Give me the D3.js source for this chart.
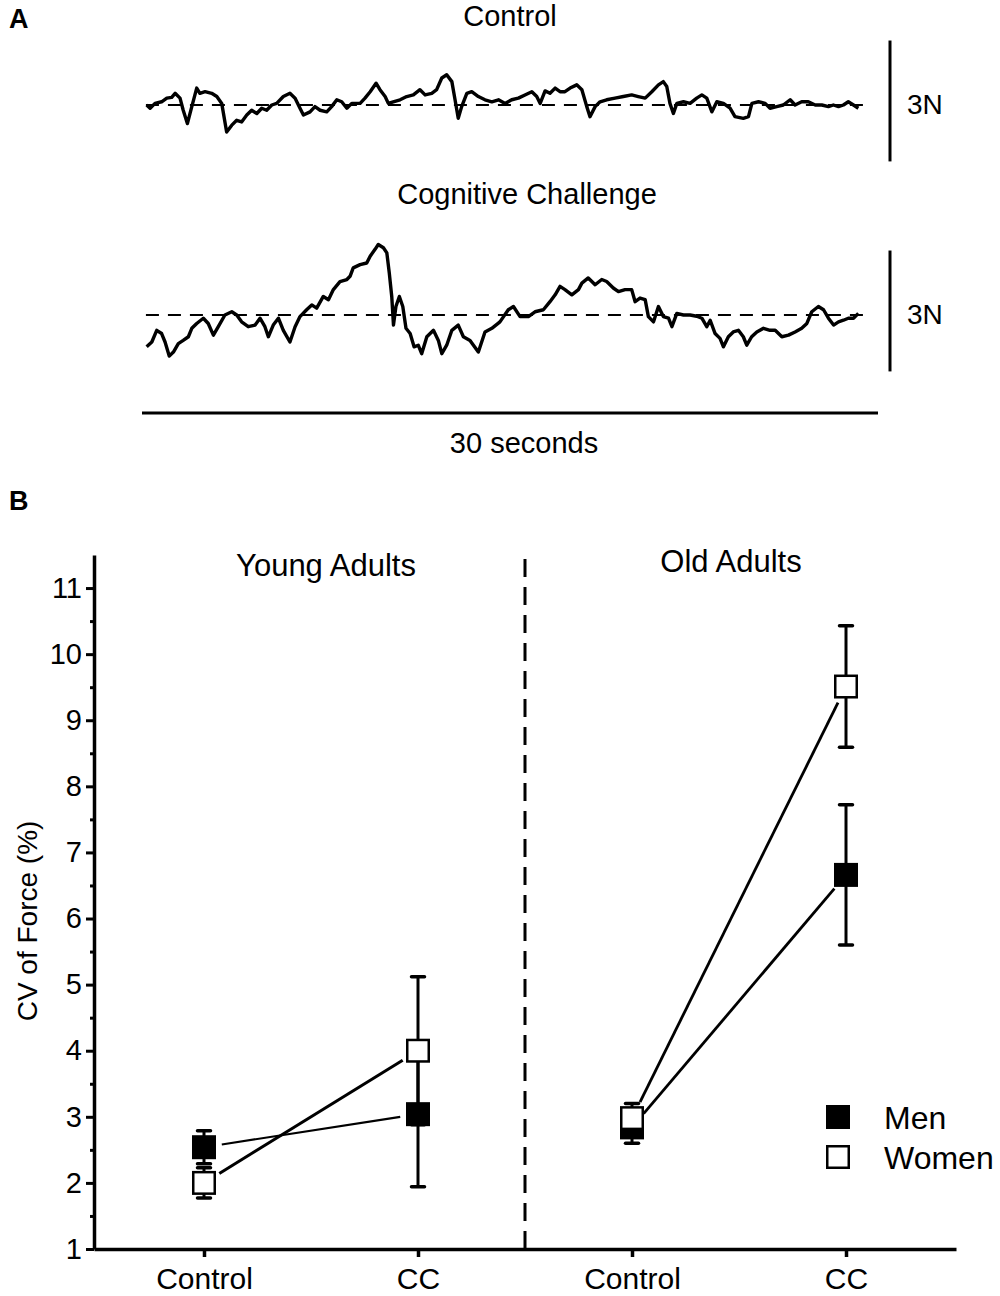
<!DOCTYPE html>
<html>
<head>
<meta charset="utf-8">
<script src="https://cdn.jsdelivr.net/npm/d3@7"></script>
<style>
  body { margin: 0; background: #fff; }
  svg { display: block; }
  text { font-family: "Liberation Sans", Arial, sans-serif; fill: #000; }
</style>
</head>
<body>
<svg id="fig" width="1000" height="1296"></svg>
<script>
// ---- panel A: force traces (time in s, force deviation from target in N)
const controlTime = [0.19,0.33,0.53,0.80,1.01,1.21,1.35,1.55,1.68,1.85,2.03,2.23,2.36,2.57,2.84,3.05,3.25,3.45,3.66,3.86,
  4.06,4.27,4.47,4.68,4.88,5.08,5.29,5.49,5.76,6.03,6.24,6.44,6.58,6.85,7.05,7.26,7.53,7.73,7.94,8.14,8.35,8.55,8.89,
  9.09,9.30,9.54,9.70,9.91,10.04,10.24,10.52,10.79,11.06,11.33,11.54,11.81,12.01,12.22,12.42,12.63,12.76,12.89,13.03,
  13.24,13.44,13.71,13.98,14.26,14.53,14.80,15.07,15.34,15.61,15.89,16.09,16.23,16.43,16.63,16.84,17.04,17.24,17.45,
  17.72,17.93,18.13,18.26,18.47,18.67,18.94,19.28,19.62,19.96,20.23,20.51,20.78,21.05,21.25,21.39,21.52,21.66,21.80,
  22.07,22.34,22.61,22.82,23.02,23.23,23.43,23.70,23.97,24.17,24.51,24.72,24.86,25.13,25.40,25.60,25.87,26.14,26.42,
  26.62,26.89,27.16,27.44,27.71,27.98,28.18,28.39,28.59,28.79,29.00,29.20];
const controlForce = [0.00,-0.08,0.04,0.08,0.17,0.19,0.29,0.17,-0.13,-0.46,-0.04,0.42,0.29,0.33,0.29,0.21,0.04,-0.67,-0.50,-0.38,
  -0.42,-0.25,-0.13,-0.21,-0.08,-0.13,0.00,0.04,0.21,0.29,0.17,-0.08,-0.25,-0.17,-0.04,-0.13,-0.17,-0.04,0.13,0.08,-0.08,0.04,0.04,
  0.17,0.33,0.54,0.38,0.21,0.04,0.08,0.13,0.21,0.25,0.38,0.25,0.29,0.38,0.67,0.75,0.58,0.13,-0.33,-0.04,
  0.29,0.33,0.21,0.13,0.08,0.13,0.04,0.13,0.17,0.25,0.33,0.21,0.04,0.35,0.29,0.42,0.33,0.33,0.42,
  0.50,0.38,-0.04,-0.29,-0.04,0.08,0.13,0.17,0.21,0.25,0.21,0.17,0.33,0.50,0.58,0.46,0.04,-0.21,0.04,
  0.08,0.04,0.17,0.25,0.17,-0.17,0.08,0.04,-0.08,-0.29,-0.33,-0.29,0.04,0.08,0.04,-0.08,-0.04,0.00,0.13,
  0.00,0.08,0.08,0.00,0.00,-0.04,0.00,-0.04,0.00,0.08,0.00,-0.08];

const ccTime = [0.19,0.40,0.60,0.80,0.94,1.11,1.28,1.48,1.68,1.89,2.03,2.23,2.50,2.70,2.91,3.11,3.38,3.66,3.86,4.06,4.33,
  4.61,4.81,5.01,5.15,5.35,5.56,5.76,6.03,6.24,6.44,6.71,6.92,7.12,7.39,7.60,7.80,8.07,8.35,8.48,8.61,8.89,9.16,9.30,
  9.50,9.63,9.84,9.98,10.08,10.18,10.25,10.35,10.49,10.63,10.76,10.93,11.09,11.26,11.40,11.61,11.88,12.08,12.22,12.42,
  12.63,12.89,13.10,13.37,13.71,13.98,14.26,14.59,14.93,15.14,15.41,15.75,16.02,16.36,16.63,16.84,17.04,17.24,17.52,
  17.79,17.93,18.19,18.47,18.74,18.94,19.21,19.42,19.69,19.96,20.10,20.30,20.51,20.64,20.85,21.05,21.25,21.46,21.60,
  21.80,22.07,22.34,22.61,22.82,23.02,23.16,23.36,23.56,23.70,23.90,24.10,24.31,24.51,24.65,24.85,25.06,25.33,25.60,
  25.81,26.08,26.35,26.62,26.89,27.10,27.30,27.57,27.78,27.98,28.19,28.39,28.59,28.79,29.00,29.20];
const ccForce = [-0.79,-0.67,-0.38,-0.46,-0.67,-1.02,-0.92,-0.71,-0.63,-0.54,-0.33,-0.21,-0.08,-0.21,-0.50,-0.29,0.00,0.08,0.00,-0.17,-0.29,
  -0.25,-0.08,-0.29,-0.54,-0.25,-0.08,-0.38,-0.67,-0.29,-0.04,0.13,0.25,0.17,0.46,0.38,0.63,0.83,0.88,0.96,1.17,1.25,1.29,1.46,
  1.63,1.75,1.67,1.54,1.04,0.46,-0.25,0.21,0.46,0.21,-0.33,-0.46,-0.79,-0.75,-0.96,-0.54,-0.38,-0.63,-0.96,-0.75,
  -0.38,-0.25,-0.54,-0.63,-0.92,-0.42,-0.33,-0.17,0.13,0.21,-0.04,-0.04,0.08,0.13,0.33,0.50,0.71,0.63,0.50,
  0.63,0.79,0.92,0.75,0.88,0.83,0.67,0.58,0.63,0.63,0.33,0.42,0.38,-0.04,-0.17,0.21,-0.04,-0.08,-0.29,
  0.04,0.00,0.00,-0.03,-0.08,-0.29,-0.13,-0.46,-0.58,-0.79,-0.54,-0.42,-0.38,-0.54,-0.75,-0.54,-0.42,-0.33,-0.38,
  -0.38,-0.54,-0.50,-0.42,-0.33,-0.21,0.08,0.21,0.13,-0.08,-0.25,-0.17,-0.13,-0.08,-0.08,0.04];

// ---- panel B: CV of force (%), order = Young Control, Young CC, Old Control, Old CC
const groups = ["Young Adults", "Old Adults"];
const conditions = ["Control", "CC"];
const menMean = [2.54, 3.04, 2.84, 6.66];
const menSE = [0.25, 1.10, 0.24, 1.06];
const womenMean = [2.00, 4.00, 2.98, 9.51];
const womenSE = [0.23, 1.12, 0.22, 0.92];
const yTicks = [1, 2, 3, 4, 5, 6, 7, 8, 9, 10, 11];

const svg = d3.select("#fig");

// panel letters
svg.append("text").attr("x", 9).attr("y", 28).attr("font-size", 27).attr("font-weight", "bold").text("A");
svg.append("text").attr("x", 9).attr("y", 510).attr("font-size", 27).attr("font-weight", "bold").text("B");

// ================= Panel A =================
const xTime = d3.scaleLinear().domain([0, 30]).range([142, 878]);
const pxPerN = 40.3;

const traces = [
  { title: "Control", titleX: 510, titleY: 26, t: controlTime, f: controlForce, base: 105 },
  { title: "Cognitive Challenge", titleX: 527, titleY: 204, t: ccTime, f: ccForce, base: 315 }
];

traces.forEach(tr => {
  const yF = d3.scaleLinear().domain([-1, 1]).range([tr.base + pxPerN, tr.base - pxPerN]);
  const g = svg.append("g");

  g.append("text")
    .attr("x", tr.titleX).attr("y", tr.titleY)
    .attr("text-anchor", "middle").attr("font-size", 29)
    .text(tr.title);

  // target force (dashed)
  g.append("line")
    .attr("x1", xTime(0.16)).attr("x2", xTime(29.6))
    .attr("y1", yF(0)).attr("y2", yF(0))
    .attr("stroke", "#000").attr("stroke-width", 2)
    .attr("stroke-dasharray", "13,9");

  const pts = tr.t.map((t, i) => [t, tr.f[i]]);
  g.append("path")
    .datum(pts)
    .attr("d", d3.line().x(d => xTime(d[0])).y(d => yF(d[1])))
    .attr("fill", "none").attr("stroke", "#000")
    .attr("stroke-width", 3.4).attr("stroke-linejoin", "round");

  // 3N scale bar
  g.append("line")
    .attr("x1", 890).attr("x2", 890)
    .attr("y1", yF(-1.4)).attr("y2", yF(1.6))
    .attr("stroke", "#000").attr("stroke-width", 3);
  g.append("text")
    .attr("x", 907).attr("y", (yF(-1.4) + yF(1.6)) / 2 + 13)
    .attr("font-size", 28).text("3N");
});

// time scale bar
svg.append("line")
  .attr("x1", xTime(0)).attr("x2", xTime(30))
  .attr("y1", 413).attr("y2", 413)
  .attr("stroke", "#000").attr("stroke-width", 3);
svg.append("text")
  .attr("x", 524).attr("y", 453)
  .attr("text-anchor", "middle").attr("font-size", 29)
  .text("30 seconds");

// ================= Panel B =================
const keys = ["YC", "YCC", "OC", "OCC"];
const x = d3.scalePoint().domain(keys).range([94, 956]).padding(0.514);
const y = d3.scaleLinear().domain([1, 11.5]).range([1249, 555]);

const gB = svg.append("g");

// y axis
const yAxis = gB.append("g")
  .attr("transform", "translate(94,0)")
  .call(d3.axisLeft(y).tickValues(yTicks).tickSize(8).tickSizeOuter(0).tickPadding(4));
yAxis.select(".domain").attr("stroke-width", 3.5);
yAxis.selectAll(".tick line").attr("stroke-width", 3);
yAxis.selectAll(".tick text").attr("font-size", 29).attr("font-family", "Liberation Sans, Arial, sans-serif");

// minor ticks
const yMinor = gB.append("g")
  .attr("transform", "translate(94,0)")
  .call(d3.axisLeft(y).tickValues(d3.range(1.5, 11, 1)).tickSize(4).tickFormat(""));
yMinor.select(".domain").remove();
yMinor.selectAll(".tick line").attr("stroke-width", 3);

// x axis
const xAxis = gB.append("g")
  .attr("transform", "translate(0,1249)")
  .call(d3.axisBottom(x).tickSize(8).tickSizeOuter(0).tickPadding(10.5)
    .tickFormat((d, i) => conditions[i % 2]));
xAxis.select(".domain").attr("stroke-width", 3.5);
xAxis.selectAll(".tick line").attr("stroke-width", 3.5);
xAxis.selectAll(".tick text").attr("font-size", 30).attr("font-family", "Liberation Sans, Arial, sans-serif");

// y axis title
gB.append("text")
  .attr("transform", "translate(37,921) rotate(-90)")
  .attr("text-anchor", "middle").attr("font-size", 28)
  .text("CV of Force (%)");

// divider between age groups
const xDiv = (x("YCC") + x("OC")) / 2;
gB.append("line")
  .attr("x1", xDiv).attr("x2", xDiv)
  .attr("y1", y(11.5) + 4).attr("y2", y(1))
  .attr("stroke", "#000").attr("stroke-width", 3)
  .attr("stroke-dasharray", "18,10");

// group titles
gB.append("text").attr("x", 326).attr("y", 576).attr("text-anchor", "middle")
  .attr("font-size", 31).text(groups[0]);
gB.append("text").attr("x", 731).attr("y", 572).attr("text-anchor", "middle")
  .attr("font-size", 31).text(groups[1]);

// series
const series = [
  { name: "Men", mean: menMean, se: menSE, fill: "#000", lw: [2.2, 2.8] },
  { name: "Women", mean: womenMean, se: womenSE, fill: "#fff", lw: [3, 2.8] }
];
const gap = 18;
const msize = 24;

// connecting lines (Control -> CC within each age group), trimmed near markers
series.forEach(s => {
  [[0, 1], [2, 3]].forEach(([a, b], j) => {
    const x1 = x(keys[a]), y1 = y(s.mean[a]);
    const x2 = x(keys[b]), y2 = y(s.mean[b]);
    const len = Math.hypot(x2 - x1, y2 - y1);
    const ux = (x2 - x1) / len, uy = (y2 - y1) / len;
    gB.append("line")
      .attr("x1", x1 + ux * gap).attr("y1", y1 + uy * gap)
      .attr("x2", x2 - ux * gap).attr("y2", y2 - uy * gap)
      .attr("stroke", "#000").attr("stroke-width", s.lw[j]);
  });
});

// error bars
series.forEach(s => {
  keys.forEach((k, i) => {
    const cx = x(k), top = y(s.mean[i] + s.se[i]), bot = y(s.mean[i] - s.se[i]);
    gB.append("line").attr("x1", cx).attr("x2", cx).attr("y1", top).attr("y2", bot)
      .attr("stroke", "#000").attr("stroke-width", 3);
    [top, bot].forEach(yy => {
      gB.append("line").attr("x1", cx - 6.5).attr("x2", cx + 6.5).attr("y1", yy).attr("y2", yy)
        .attr("stroke", "#000").attr("stroke-width", 3.5).attr("stroke-linecap", "round");
    });
  });
});

// markers (men first, women on top)
series.forEach(s => {
  const open = s.fill !== "#000";
  gB.selectAll(null)
    .data(keys.map((k, i) => ({ k, v: s.mean[i] })))
    .enter().append("rect")
    .attr("x", d => x(d.k) - (open ? msize / 2 - 1.25 : msize / 2))
    .attr("y", d => y(d.v) - (open ? msize / 2 - 1.25 : msize / 2))
    .attr("width", open ? msize - 2.5 : msize)
    .attr("height", open ? msize - 2.5 : msize)
    .attr("fill", s.fill)
    .attr("stroke", "#000")
    .attr("stroke-width", open ? 2.5 : 0);
});

// legend
const legend = gB.append("g");
series.forEach((s, i) => {
  const ly = 1117 + i * 40;
  legend.append("rect")
    .attr("x", 826 + (i ? 1.25 : 0)).attr("y", ly - 12 + (i ? 1.25 : 0))
    .attr("width", i ? 21.5 : 24).attr("height", i ? 21.5 : 24)
    .attr("fill", s.fill).attr("stroke", "#000").attr("stroke-width", i ? 2.5 : 0);
  legend.append("text")
    .attr("x", 884).attr("y", ly + 12)
    .attr("font-size", 32).text(s.name);
});
</script>
</body>
</html>
